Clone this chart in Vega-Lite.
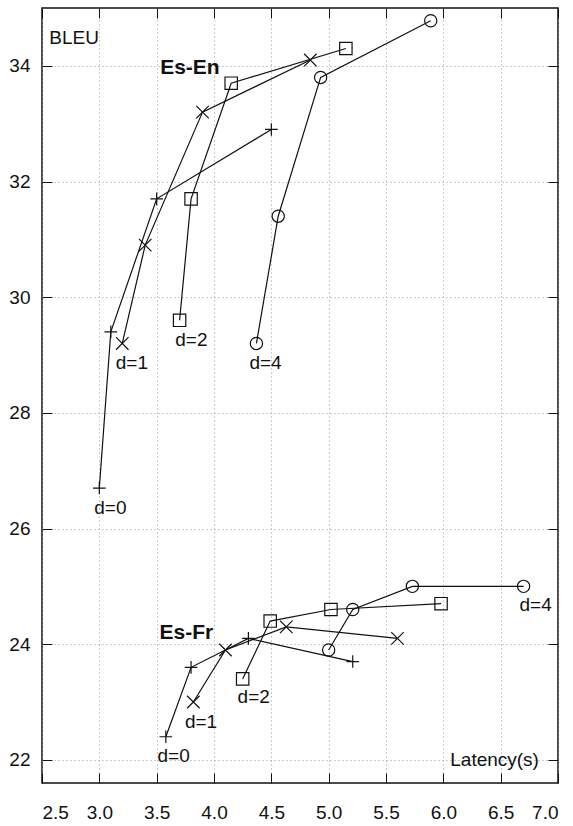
{
  "$schema": "https://vega.github.io/schema/vega-lite/v6.json",
  "width": 516,
  "height": 775,
  "autosize": {"type": "none"},
  "padding": {"left": 42, "top": 8, "right": 15, "bottom": 43},
  "config": {
    "font": "Liberation Sans",
    "view": {"stroke": "#111", "strokeWidth": 1.5},
    "axis": {
      "domain": false,
      "tickColor": "#111",
      "tickWidth": 1,
      "tickSize": -10,
      "labelFontSize": 19,
      "labelColor": "#111",
      "labelFont": "Liberation Sans",
      "title": null,
      "gridColor": "#999",
      "gridDash": [1, 3],
      "gridWidth": 1
    }
  },
  "datasets": {
    "pts": [
      {"lang": "Es-En", "d": "d=0", "x": 3.0, "y": 26.7},
      {"lang": "Es-En", "d": "d=0", "x": 3.1, "y": 29.4},
      {"lang": "Es-En", "d": "d=0", "x": 3.5, "y": 31.7},
      {"lang": "Es-En", "d": "d=0", "x": 4.5, "y": 32.9},
      {"lang": "Es-En", "d": "d=1", "x": 3.2, "y": 29.2},
      {"lang": "Es-En", "d": "d=1", "x": 3.4, "y": 30.9},
      {"lang": "Es-En", "d": "d=1", "x": 3.9, "y": 33.2},
      {"lang": "Es-En", "d": "d=1", "x": 4.84, "y": 34.1},
      {"lang": "Es-En", "d": "d=2", "x": 3.7, "y": 29.6},
      {"lang": "Es-En", "d": "d=2", "x": 3.8, "y": 31.7},
      {"lang": "Es-En", "d": "d=2", "x": 4.15, "y": 33.7},
      {"lang": "Es-En", "d": "d=2", "x": 5.15, "y": 34.3},
      {"lang": "Es-En", "d": "d=4", "x": 4.37, "y": 29.2},
      {"lang": "Es-En", "d": "d=4", "x": 4.56, "y": 31.4},
      {"lang": "Es-En", "d": "d=4", "x": 4.93, "y": 33.8},
      {"lang": "Es-En", "d": "d=4", "x": 5.89, "y": 34.78},
      {"lang": "Es-Fr", "d": "d=0", "x": 3.58, "y": 22.4},
      {"lang": "Es-Fr", "d": "d=0", "x": 3.8, "y": 23.6},
      {"lang": "Es-Fr", "d": "d=0", "x": 4.3, "y": 24.1},
      {"lang": "Es-Fr", "d": "d=0", "x": 5.21, "y": 23.7},
      {"lang": "Es-Fr", "d": "d=1", "x": 3.82, "y": 23.0},
      {"lang": "Es-Fr", "d": "d=1", "x": 4.1, "y": 23.9},
      {"lang": "Es-Fr", "d": "d=1", "x": 4.63, "y": 24.3},
      {"lang": "Es-Fr", "d": "d=1", "x": 5.6, "y": 24.1},
      {"lang": "Es-Fr", "d": "d=2", "x": 4.25, "y": 23.4},
      {"lang": "Es-Fr", "d": "d=2", "x": 4.49, "y": 24.4},
      {"lang": "Es-Fr", "d": "d=2", "x": 5.02, "y": 24.6},
      {"lang": "Es-Fr", "d": "d=2", "x": 5.98, "y": 24.7},
      {"lang": "Es-Fr", "d": "d=4", "x": 5.0, "y": 23.9},
      {"lang": "Es-Fr", "d": "d=4", "x": 5.21, "y": 24.6},
      {"lang": "Es-Fr", "d": "d=4", "x": 5.73, "y": 25.0},
      {"lang": "Es-Fr", "d": "d=4", "x": 6.7, "y": 25.0}
    ],
    "labels": [
      {"text": "BLEU", "x": 2.78, "y": 34.48},
      {"text": "d=0", "x": 3.096, "y": 26.36},
      {"text": "d=1", "x": 3.284, "y": 28.87},
      {"text": "d=2", "x": 3.803, "y": 29.26},
      {"text": "d=4", "x": 4.449, "y": 28.87},
      {"text": "d=0", "x": 3.648, "y": 22.07},
      {"text": "d=1", "x": 3.887, "y": 22.66},
      {"text": "d=2", "x": 4.346, "y": 23.09},
      {"text": "d=4", "x": 6.805, "y": 24.68},
      {"text": "Latency(s)", "x": 6.447, "y": 22.0}
    ],
    "bold": [
      {"text": "Es-En", "x": 3.79, "y": 33.97},
      {"text": "Es-Fr", "x": 3.759, "y": 24.19}
    ]
  },
  "resolve": {"axis": {"x": "independent", "y": "independent"}},
  "layer": [
    {
      "data": {"name": "pts"},
      "mark": {"type": "line", "color": "#111", "strokeWidth": 1.2},
      "encoding": {
        "x": {"field": "x", "type": "quantitative", "scale": {"domain": [2.5, 7.0], "nice": false, "zero": false},
          "axis": {"orient": "bottom", "values": [2.5, 3.0, 3.5, 4.0, 4.5, 5.0, 5.5, 6.0, 6.5, 7.0], "format": ".1f", "grid": true, "labelPadding": 30}},
        "y": {"field": "y", "type": "quantitative", "scale": {"domain": [21.6, 35.0], "nice": false, "zero": false},
          "axis": {"orient": "left", "values": [22, 24, 26, 28, 30, 32, 34], "grid": true, "labelPadding": 22}},
        "detail": [{"field": "lang"}, {"field": "d"}]
      }
    },
    {
      "data": {"name": "pts"},
      "mark": {"type": "point", "filled": false, "strokeWidth": 1.2, "opacity": 1},
      "encoding": {
        "x": {"field": "x", "type": "quantitative",
          "axis": {"orient": "top", "values": [2.5, 3.0, 3.5, 4.0, 4.5, 5.0, 5.5, 6.0, 6.5, 7.0], "labels": false, "grid": false}},
        "y": {"field": "y", "type": "quantitative",
          "axis": {"orient": "right", "values": [22, 24, 26, 28, 30, 32, 34], "labels": false, "grid": false}},
        "color": {"value": "#111"},
        "shape": {"field": "d", "type": "nominal", "legend": null,
          "scale": {"domain": ["d=0", "d=1", "d=2", "d=4"], "range": ["M-1,0L1,0M0,-1L0,1", "M-1,-1L1,1M-1,1L1,-1", "square", "circle"]}},
        "size": {"field": "d", "type": "ordinal", "legend": null,
          "scale": {"domain": ["d=0", "d=1", "d=2", "d=4"], "range": [160, 150, 180, 150]}}
      }
    },
    {
      "data": {"name": "labels"},
      "mark": {"type": "text", "fontSize": 19, "color": "#111", "align": "center", "baseline": "middle"},
      "encoding": {
        "x": {"field": "x", "type": "quantitative", "axis": null},
        "y": {"field": "y", "type": "quantitative", "axis": null},
        "text": {"field": "text"}
      }
    },
    {
      "data": {"name": "bold"},
      "mark": {"type": "text", "fontSize": 21, "fontWeight": "bold", "color": "#111", "align": "center", "baseline": "middle"},
      "encoding": {
        "x": {"field": "x", "type": "quantitative", "axis": null},
        "y": {"field": "y", "type": "quantitative", "axis": null},
        "text": {"field": "text"}
      }
    }
  ]
}
